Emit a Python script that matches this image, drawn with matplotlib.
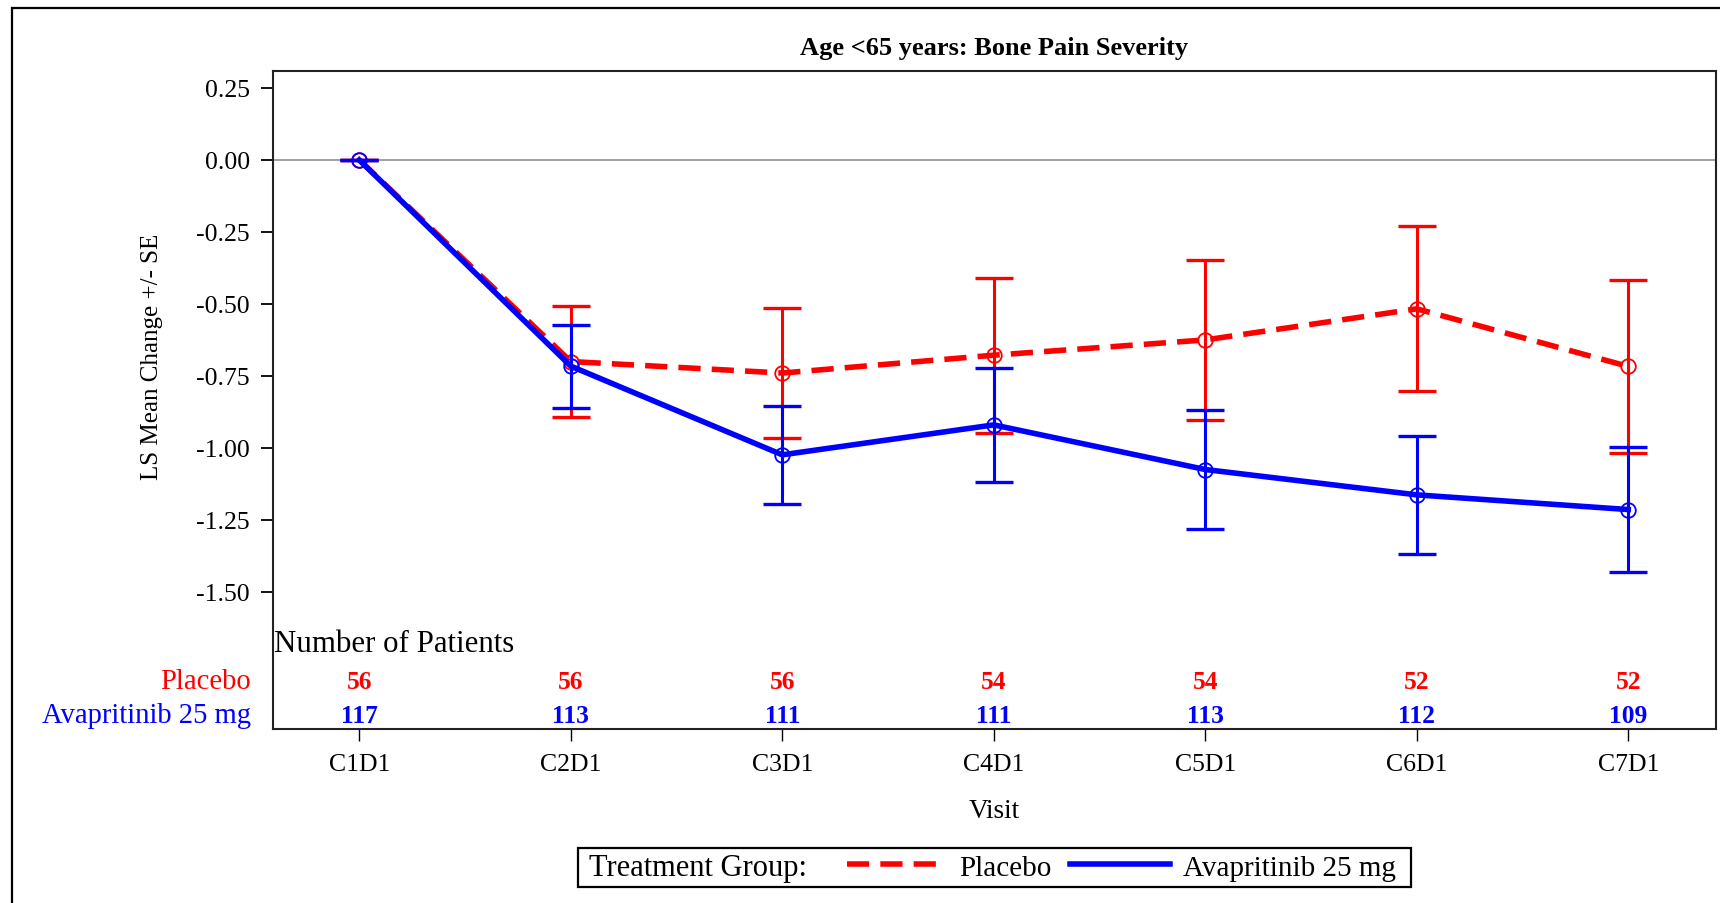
import numpy as np
import matplotlib.pyplot as plt
from matplotlib.lines import Line2D
from matplotlib.patches import Rectangle
from matplotlib.offsetbox import HPacker, DrawingArea

plt.rcParams['font.family'] = 'Liberation Serif'
plt.rcParams['axes.unicode_minus'] = False

# LS mean change from baseline and standard error per visit
visits = ['C1D1', 'C2D1', 'C3D1', 'C4D1', 'C5D1', 'C6D1', 'C7D1']
placebo_mean = [0.0, -0.700, -0.740, -0.678, -0.625, -0.517, -0.717]
placebo_se = [0.0, 0.193, 0.225, 0.269, 0.277, 0.286, 0.300]
avap_mean = [0.0, -0.716, -1.024, -0.920, -1.075, -1.163, -1.214]
avap_se = [0.0, 0.144, 0.170, 0.199, 0.206, 0.206, 0.218]

# patients at risk
placebo_n = [56, 56, 56, 54, 54, 52, 52]
avap_n = [117, 113, 111, 111, 113, 112, 109]

yticks = [-1.50, -1.25, -1.00, -0.75, -0.50, -0.25, 0.00, 0.25]
groups = ['Placebo', 'Avapritinib 25 mg']

RED = '#ff0000'
BLUE = '#0000ff'

fig = plt.figure(figsize=(17.2, 9.04), dpi=100)
ax = fig.add_axes([0.1587, 0.1925, 0.8390, 0.7279])

x = np.arange(len(visits))
ax.axhline(0, color='#9a9a9a', lw=1.3, zorder=1)

# placebo first, avapritinib drawn over it
series = [(placebo_mean, placebo_se, RED, (4.0, 2.0), 3),
          (avap_mean, avap_se, BLUE, None, 5)]
for mean, se, col, dash, z in series:
    ax.errorbar(x, mean, yerr=se, fmt='none', ecolor=col, elinewidth=2.2,
                capsize=14, capthick=2.4, zorder=z)
    line, = ax.plot(x, mean, color=col, lw=4.0, marker='o', ms=10.5,
                    mfc='none', mec=col, mew=1.3, zorder=z + 1)
    if dash is not None:
        line.set_dashes(dash)

ax.set_xlim(-0.408, 6.415)
ax.set_ylim(-1.976, 0.309)
ax.set_xticks(x)
ax.set_xticklabels(visits, fontsize=18.5)
ax.set_yticks(yticks)
ax.set_yticklabels(['%.2f' % v for v in yticks], fontsize=18.5)
ax.tick_params(axis='y', length=8.6, width=1.3, pad=8)
ax.tick_params(axis='x', length=8.6, width=1.0, pad=9)
for sp in ax.spines.values():
    sp.set_color('#222222')
    sp.set_linewidth(1.5)

ax.set_title('Age <65 years: Bone Pain Severity', fontsize=19,
             fontweight='bold', pad=12)
ax.set_ylabel('LS Mean Change +/- SE', fontsize=18, va='center')
ax.yaxis.set_label_coords(-0.0839, 0.567)
ax.set_xlabel('Visit', fontsize=19.5, va='center')
ax.xaxis.set_label_coords(0.5, -0.1246)

# patient count table inside the bottom of the plot area
trans = ax.get_xaxis_transform()
ax.text(0.001, 0.1185, 'Number of Patients', transform=ax.transAxes,
        fontsize=22.2, ha='left', va='baseline')
for counts, col, yrow, name in [(placebo_n, RED, 0.0623, groups[0]),
                                (avap_n, BLUE, 0.0106, groups[1])]:
    ax.text(-0.0152, yrow, name, transform=ax.transAxes, color=col,
            fontsize=20.6, ha='right', va='baseline')
    for xi, n in zip(x, counts):
        ax.text(xi, yrow, str(n), transform=trans, color=col, fontsize=18.4,
                fontweight='bold', ha='center', va='baseline')

# legend with its title on the same row as the entries
h_pbo = Line2D([], [], color=RED, lw=4.0, dashes=(4.0, 2.0))
h_ava = Line2D([], [], color=BLUE, lw=4.0)
leg = fig.legend(handles=[h_pbo, h_ava], labels=groups, ncol=2,
                 title='Treatment Group:', title_fontsize=22, fontsize=21,
                 loc='center', bbox_to_anchor=(0.578, 0.0393),
                 fancybox=False, edgecolor='black', framealpha=1,
                 handlelength=3.4, handletextpad=0.45, columnspacing=0.65,
                 borderpad=0.18, borderaxespad=0)
leg.get_frame().set_linewidth(1.6)
title_box, entries_box = leg._legend_box.get_children()
inner = HPacker(pad=0, sep=29, align='center', children=[title_box, entries_box])
row = HPacker(pad=0, sep=0, align='center',
              children=[DrawingArea(4, 0), inner, DrawingArea(7, 0)])
leg._legend_box._children = [row]

# outer frame around the whole output
fig.patches.append(Rectangle((12 / 1720, -0.2), 1.2, 1.2 - 9 / 904,
                             transform=fig.transFigure, fill=False,
                             edgecolor='black', lw=1.6))

fig.savefig('out.png', dpi=100, facecolor='white')
